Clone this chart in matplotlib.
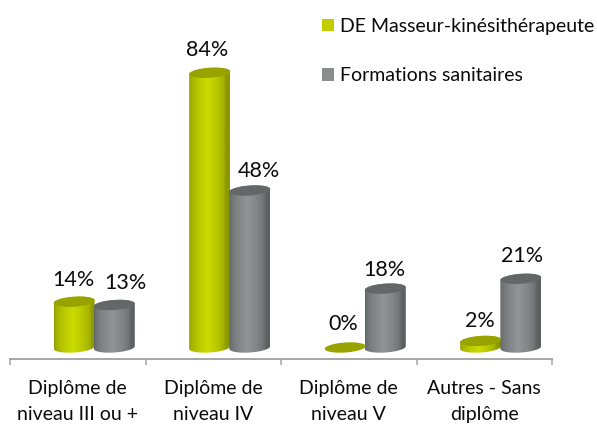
import matplotlib
matplotlib.use('Agg')
import matplotlib.pyplot as plt
from matplotlib.patches import Patch, Polygon
import numpy as np

categories = ['Diplôme de\nniveau III ou +', 'Diplôme de\nniveau IV', 'Diplôme de\nniveau V', 'Autres - Sans\ndiplôme']
kine = [14, 84, 0, 2]
sanitaires = [13, 48, 18, 21]
series_names = ['DE Masseur-kinésithérapeute', 'Formations sanitaires']

plt.rcParams['font.family'] = ['Lato', 'DejaVu Sans']

W, H = 597, 424
PX_X = 135.5      # pixels par categorie
PX_Y = 3.27       # pixels par %
BASE = 347.5      # ligne de base des cylindres (px depuis le haut)
AXIS = 359

fig = plt.figure(figsize=(W / 100, H / 100), dpi=100)
ax = fig.add_axes([10 / W, 1 - AXIS / H, 542 / W, AXIS / H])
ax.set_xlim(0, 4)
ax.set_ylim(-(AXIS - BASE) / PX_Y, BASE / PX_Y)
ax.patch.set_alpha(0)

a_px, b_px, tilt = 20.5, 5.0, np.radians(4)


def ellipse(cx, v, t):
    # ellipse inclinee, en coordonnees de donnees
    px = a_px * np.cos(t) * np.cos(tilt) - b_px * np.sin(t) * np.sin(tilt)
    py = a_px * np.cos(t) * np.sin(tilt) + b_px * np.sin(t) * np.cos(tilt)
    return np.column_stack([cx + px / PX_X, v + py / PX_Y])


def cylinder(cx, v, edge, mid, top):
    t_low = np.linspace(np.pi, 2 * np.pi, 60)
    t_up = np.linspace(0, np.pi, 60)
    if v > 0:
        body = np.vstack([ellipse(cx, 0, t_low), ellipse(cx, v, t_up)])
        clip = Polygon(body, transform=ax.transData, facecolor='none', edgecolor='none')
        ax.add_patch(clip)
        s = np.linspace(0, 1, 100)
        w = np.clip(1 - np.abs(s - 0.45) / 0.45, 0, 1) ** 0.5
        img = np.outer(w, [1, 1, 1]) * np.array(mid) + np.outer(1 - w, [1, 1, 1]) * np.array(edge)
        x0, x1 = cx - a_px / PX_X, cx + a_px / PX_X
        im = ax.imshow(img[np.newaxis, :, :], extent=[x0, x1, -3, v + 3], aspect='auto',
                       interpolation='bilinear', zorder=ax.zorder + len(ax.images) + 1)
        im.set_clip_path(clip)
    t_all = np.linspace(0, 2 * np.pi, 120)
    z = len(ax.images) + 1.5
    ax.add_patch(Polygon(ellipse(cx, v, t_all), facecolor=top, edgecolor='none', zorder=z))


green_edge, green_mid, green_top = (0.55, 0.60, 0.0), (0.80, 0.86, 0.0), '#98a300'
grey_edge, grey_mid, grey_top = (0.36, 0.38, 0.38), (0.57, 0.58, 0.59), '#646767'

# decalages des etiquettes en pixels
green_off = [(-1, 22), (-3, 23), (-2, 23), (-1, 20)]
grey_off = [(11, 22), (9, 20), (-1, 19), (1, 23)]

for i in range(4):
    xg = i + 0.4735
    xs = i + 0.7700
    cylinder(xg, kine[i], green_edge, green_mid, green_top)
    cylinder(xs, sanitaires[i], grey_edge, grey_mid, grey_top)
    for x, v, off in [(xg, kine[i], green_off[i]), (xs, sanitaires[i], grey_off[i])]:
        ax.annotate(f'{v}%', (x, v), xytext=(off[0] * 0.72, off[1] * 0.72), textcoords='offset points',
                    ha='center', va='center', fontsize=15.5, color='#0a0a0a', zorder=50)

ax.set_xlim(0, 4)
ax.set_ylim(-(AXIS - BASE) / PX_Y, BASE / PX_Y)

for s in ['top', 'left', 'right']:
    ax.spines[s].set_visible(False)
ax.spines['bottom'].set_color('#a6a6a6')
ax.spines['bottom'].set_linewidth(1.4)
ax.set_yticks([])
ax.set_xticks(range(5))
ax.set_xticklabels([])
ax.tick_params(axis='x', which='major', length=4.5, width=1.1, color='#a6a6a6')
ax.set_xticks(np.arange(4) + 0.5, minor=True)
ax.set_xticklabels(categories, minor=True, fontsize=14, color='#0a0a0a', linespacing=1.62)
ax.tick_params(axis='x', which='minor', length=0, pad=15)

handles = [Patch(facecolor='#c3cc00', edgecolor='none'), Patch(facecolor='#8b8c8e', edgecolor='none')]
fig.legend(handles, series_names, loc='upper left', bbox_to_anchor=(322 / W, 1 - 18 / H),
           frameon=False, fontsize=14, handlelength=0.62, handleheight=0.62,
           handletextpad=0.32, labelspacing=1.65, borderpad=0, borderaxespad=0,
           labelcolor='#0a0a0a')

fig.savefig('out.png', dpi=100)
